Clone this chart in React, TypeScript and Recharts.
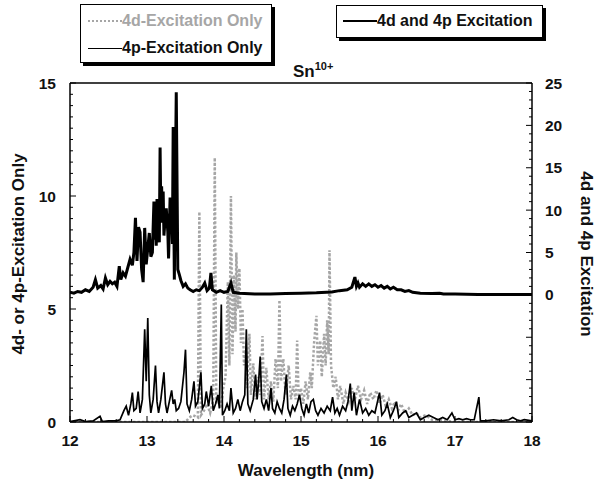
import { LineChart, Line, XAxis, YAxis } from 'recharts';

// 4d and 4p excitation (right axis)
const comboWl = [
  12.0, 12.05, 12.1, 12.15, 12.2, 12.25, 12.3, 12.33, 12.36, 12.4, 12.43, 12.46, 12.49, 12.52, 12.55, 12.58,
  12.61, 12.64, 12.66, 12.69, 12.72, 12.75, 12.78, 12.81, 12.83, 12.85, 12.87, 12.89, 12.91, 12.93, 12.95,
  12.97, 12.99, 13.01, 13.03, 13.05, 13.07, 13.09, 13.1, 13.11, 13.12, 13.13, 13.14, 13.15, 13.16, 13.17,
  13.18, 13.19, 13.2, 13.21, 13.22, 13.23, 13.25, 13.27, 13.28, 13.3, 13.32, 13.33, 13.34, 13.355, 13.37,
  13.38, 13.4, 13.42, 13.44, 13.47, 13.5, 13.53, 13.56, 13.6, 13.64, 13.68, 13.72, 13.75, 13.78, 13.81,
  13.83, 13.85, 13.9, 13.95, 14.0, 14.05, 14.09, 14.12, 14.2, 14.4, 14.6, 14.8, 15.0, 15.2, 15.4, 15.5,
  15.6, 15.66, 15.7, 15.72, 15.74, 15.76, 15.8, 15.84, 15.88, 15.92, 15.96, 16.0, 16.04, 16.08, 16.12,
  16.16, 16.2, 16.25, 16.3, 16.35, 16.4, 16.45, 16.55, 16.7, 16.8, 16.85, 17.0, 17.3, 17.6, 18.0,
];
const comboVal = [
  0.3, 0.2, 0.4, 0.3, 0.6, 0.4, 0.9, 1.8, 0.8, 1.1, 0.7, 2.0, 1.2, 1.6, 1.3, 1.5,
  1.0, 3.4, 1.8, 2.6, 2.2, 3.2, 4.2, 3.5, 5.0, 9.1, 4.0, 8.0, 7.4, 3.0, 1.5,
  7.9, 3.6, 5.5, 7.3, 4.5, 5.0, 11.0, 6.5, 9.5, 5.8, 11.3, 7.5, 8.0, 6.2, 17.4,
  9.0, 12.8, 8.5, 12.2, 7.0, 8.3, 10.2, 7.5, 4.3, 11.5, 10.5, 6.0, 19.8, 1.8, 15.0,
  23.9, 3.0, 2.4, 1.7, 1.0, 1.3, 0.8, 0.6, 0.4, 0.6, 0.5, 0.9, 1.4, 0.5, 0.8,
  2.6, 0.6, 0.3, 0.5, 0.3, 0.4, 1.4, 0.3, 0.2, 0.1, 0.1, 0.15, 0.2, 0.25, 0.35, 0.5,
  0.6, 0.9, 2.1, 1.0, 1.4, 0.9, 1.3, 1.0, 1.3, 1.0, 1.2, 0.9, 1.1, 0.8, 1.0,
  0.7, 0.9, 0.6, 0.6, 0.4, 0.5, 0.3, 0.2, 0.15, 0.2, 0.1, 0.1, 0.05, 0.05, 0.05,
];

// 4p-excitation only (left axis)
const p4Wl = [
  12.0, 12.13, 12.2, 12.3, 12.39, 12.42, 12.5, 12.6, 12.65, 12.7, 12.73, 12.76, 12.79, 12.81, 12.83, 12.86,
  12.885, 12.91, 12.94, 12.97, 12.99, 13.01, 13.03, 13.05, 13.08, 13.11, 13.13, 13.15, 13.18, 13.22, 13.24,
  13.26, 13.29, 13.32, 13.34, 13.36, 13.38, 13.41, 13.44, 13.48, 13.5, 13.52, 13.55, 13.58, 13.61, 13.63,
  13.66, 13.7, 13.72, 13.75, 13.77, 13.8, 13.835, 13.86, 13.89, 13.92, 13.94, 13.965, 13.98, 14.01, 14.04,
  14.07, 14.09, 14.12, 14.15, 14.18, 14.21, 14.24, 14.27, 14.29, 14.31, 14.34, 14.38, 14.41, 14.43, 14.45,
  14.47, 14.49, 14.52, 14.55, 14.58, 14.61, 14.63, 14.66, 14.69, 14.72, 14.75, 14.78, 14.81, 14.83, 14.86,
  14.89, 14.92, 14.95, 14.98, 15.01, 15.04, 15.07, 15.1, 15.13, 15.16, 15.19, 15.22, 15.26, 15.3, 15.34,
  15.38, 15.41, 15.44, 15.47, 15.5, 15.54, 15.58, 15.61, 15.64, 15.66, 15.69, 15.72, 15.76, 15.8, 15.84,
  15.88, 15.92, 15.96, 16.02, 16.05, 16.09, 16.12, 16.16, 16.2, 16.24, 16.27, 16.32, 16.36, 16.4, 16.45,
  16.5, 16.55, 16.6, 16.66, 16.72, 16.78, 16.84, 16.9, 16.96, 17.0, 17.05, 17.1, 17.15, 17.2, 17.25,
  17.31, 17.33, 17.4, 17.5, 17.6, 17.7, 17.75, 17.8, 17.85, 17.9, 18.0,
];
const p4Val = [
  0.02, 0.1, 0.02, 0.05, 0.25, 0.02, 0.05, 0.05, 0.1, 0.5, 0.7, 0.3, 0.8, 1.3, 0.5, 0.6,
  1.35, 0.4, 1.0, 4.1, 1.8, 4.6, 1.2, 0.4, 1.0, 2.5, 0.9, 0.4, 1.0, 2.2, 0.8,
  0.4, 0.9, 1.4, 0.8, 1.0, 0.5, 0.6, 0.9, 2.2, 3.2, 0.8, 0.5, 1.0, 1.8, 0.7,
  0.9, 2.2, 0.6, 0.8, 1.35, 0.7, 1.6, 0.5, 0.8, 1.2, 0.6, 5.2, 0.3, 0.5, 0.8,
  0.5, 1.5, 0.4, 0.6, 1.0, 0.5, 0.9, 1.2, 4.1, 0.8, 0.5, 1.0, 2.1, 1.0, 1.8,
  2.9, 0.9, 0.6, 1.0, 0.5, 1.5, 0.6, 0.4, 0.9, 0.6, 0.4, 1.0, 2.1, 0.6, 0.3,
  0.7, 0.5, 0.8, 1.2, 0.6, 0.3, 0.8, 0.4, 0.9, 1.0, 0.5, 0.3, 0.6, 0.4, 0.7,
  0.5, 1.1, 0.4, 0.6, 0.3, 0.7, 0.5, 0.9, 1.7, 0.5, 1.3, 0.3, 1.0, 0.4, 0.6,
  0.3, 0.5, 0.4, 1.3, 0.3, 0.5, 0.8, 0.2, 0.5, 0.9, 0.2, 0.4, 0.5, 0.2, 0.3,
  0.4, 0.1, 0.2, 0.3, 0.2, 0.1, 0.2, 0.1, 0.4, 0.1, 0.15, 0.1, 0.15, 0.1, 0.1,
  1.1, 0.05, 0.05, 0.1, 0.05, 0.1, 0.2, 0.1, 0.05, 0.1, 0.05,
];

// 4d-excitation only (left axis, grey dotted)
const d4Wl = [
  12.0, 13.5, 13.55, 13.6, 13.66, 13.68, 13.7, 13.74, 13.78, 13.82, 13.86, 13.88, 13.9, 13.93, 13.96, 13.99,
  14.02, 14.05, 14.07, 14.09, 14.11, 14.13, 14.15, 14.16, 14.18, 14.2, 14.22, 14.24, 14.26, 14.28, 14.3,
  14.33, 14.35, 14.38, 14.41, 14.44, 14.47, 14.5, 14.52, 14.55, 14.58, 14.61, 14.64, 14.67, 14.7, 14.72,
  14.74, 14.77, 14.8, 14.84, 14.87, 14.9, 14.93, 14.95, 14.97, 15.0, 15.03, 15.06, 15.09, 15.12, 15.14,
  15.17, 15.2, 15.22, 15.25, 15.27, 15.3, 15.32, 15.34, 15.36, 15.37, 15.39, 15.42, 15.45, 15.48, 15.51,
  15.55, 15.58, 15.62, 15.66, 15.7, 15.74, 15.78, 15.82, 15.86, 15.9, 15.94, 15.98, 16.02, 16.06, 16.1,
  16.14, 16.18, 16.22, 16.26, 16.3, 16.35, 16.4, 16.45, 16.5, 16.55, 16.62, 16.7, 16.8, 17.0, 18.0,
];
const d4Val = [
  0, 0, 0.2, 0.3, 0.2, 9.3, 0.3, 0.5, 0.8, 0.4, 1.0, 11.7, 0.8, 1.2, 0.6, 1.5,
  2.0, 6.2, 2.5, 10.0, 3.0, 6.5, 4.0, 7.5, 5.0, 6.8, 3.5, 5.0, 2.5, 3.2, 1.5,
  3.9, 1.2, 2.6, 1.0, 2.0, 1.2, 3.8, 1.0, 2.4, 1.0, 1.8, 0.9, 2.8, 1.5, 5.4,
  1.8, 2.8, 1.2, 2.5, 1.0, 1.6, 1.0, 3.6, 1.0, 1.5, 0.8, 1.8, 1.0, 2.2, 1.5,
  3.5, 4.7, 2.5, 3.6, 2.0, 3.9, 2.5, 4.5, 3.0, 7.6, 2.5, 1.5, 2.0, 1.0, 1.6,
  0.8, 1.3, 0.9, 1.5, 1.0, 1.6, 1.0, 1.4, 0.8, 1.3, 1.0, 1.4, 0.8, 1.2, 0.7,
  1.0, 0.6, 0.9, 0.5, 0.8, 0.4, 0.6, 0.3, 0.4, 0.2, 0.3, 0.1, 0.1, 0, 0,
];

const xLabels = [12, 13, 14, 15, 16, 17, 18];
const leftLabels = [0, 5, 10, 15];
const rightLabels = [0, 5, 10, 15, 20, 25];

const comboData = comboWl.map((x, i) => ({ x, y: comboVal[i] }));
const p4Data = p4Wl.map((x, i) => ({ x, y: p4Val[i] }));
const d4Data = d4Wl.map((x, i) => ({ x, y: d4Val[i] }));

const round = (v: number) => Math.round(v * 100) / 100;
const xTicks = Array.from({ length: 31 }, (_, i) => round(12 + i * 0.2));
const leftTicks = Array.from({ length: 31 }, (_, i) => i * 0.5);
const rightTicks = Array.from({ length: 41 }, (_, i) => i - 15);

const FONT = '"Liberation Sans", Arial, sans-serif';
const isMajorX = (v: number) => Math.abs(v - Math.round(v)) < 1e-6;

const BottomTick = (props: any) => {
  const { x, y, payload } = props;
  const major = isMajorX(payload.value);
  return (
    <g>
      <line x1={x} x2={x} y1={y} y2={y - (major ? 6 : 3)} stroke="#000" />
      {major && xLabels.includes(Math.round(payload.value)) && (
        <text x={x} y={y + 24} textAnchor="middle" fontFamily={FONT} fontWeight="bold" fontSize={15.5} fill="#111">
          {Math.round(payload.value)}
        </text>
      )}
    </g>
  );
};

const TopTick = (props: any) => {
  const { x, y, payload } = props;
  const major = isMajorX(payload.value);
  return <line x1={x} x2={x} y1={y} y2={y + (major ? 6 : 3)} stroke="#000" />;
};

const LeftTick = (props: any) => {
  const { x, y, payload } = props;
  const major = leftLabels.includes(payload.value);
  return (
    <g>
      <line x1={x} x2={x + (major ? 6 : 3)} y1={y} y2={y} stroke="#000" />
      {major && (
        <text x={x - 14} y={y + 5.5} textAnchor="end" fontFamily={FONT} fontWeight="bold" fontSize={15.5} fill="#111">
          {payload.value}
        </text>
      )}
    </g>
  );
};

const RightTick = (props: any) => {
  const { x, y, payload } = props;
  const major = payload.value % 5 === 0;
  return (
    <g>
      <line x1={x} x2={x - (major ? 6 : 3)} y1={y} y2={y} stroke="#000" />
      {rightLabels.includes(payload.value) && (
        <text x={x + 13} y={y + 5.5} textAnchor="start" fontFamily={FONT} fontWeight="bold" fontSize={15.5} fill="#111">
          {payload.value}
        </text>
      )}
    </g>
  );
};

const textBase = { fontFamily: FONT, fontWeight: 'bold' as const, color: '#111', position: 'absolute' as const };

export default function App() {
  return (
    <div style={{ position: 'absolute', left: 0, top: 0, width: 597, height: 480, background: '#fff' }}>
      <LineChart width={597} height={480} margin={{ top: 73, right: 5, bottom: 28, left: 10 }}>
        <XAxis
          xAxisId="b"
          dataKey="x"
          type="number"
          domain={[12, 18]}
          ticks={xTicks}
          interval={0}
          height={30}
          tickSize={0}
          tickMargin={0}
          tick={<BottomTick />}
          axisLine={{ stroke: '#000', strokeWidth: 1.5 }}
          allowDataOverflow
        />
        <XAxis
          xAxisId="t"
          orientation="top"
          dataKey="x"
          type="number"
          domain={[12, 18]}
          ticks={xTicks}
          interval={0}
          height={10}
          tickSize={0}
          tickMargin={0}
          tick={<TopTick />}
          axisLine={{ stroke: '#000', strokeWidth: 1.5 }}
        />
        <YAxis
          yAxisId="l"
          type="number"
          domain={[0, 15]}
          ticks={leftTicks}
          interval={0}
          width={60}
          tickSize={0}
          tickMargin={0}
          tick={<LeftTick />}
          axisLine={{ stroke: '#000', strokeWidth: 1.5 }}
          allowDataOverflow
        />
        <YAxis
          yAxisId="r"
          orientation="right"
          type="number"
          domain={[-15, 25]}
          ticks={rightTicks}
          interval={0}
          width={60}
          tickSize={0}
          tickMargin={0}
          tick={<RightTick />}
          axisLine={{ stroke: '#000', strokeWidth: 1.5 }}
          allowDataOverflow
        />
        <Line
          data={d4Data}
          xAxisId="b"
          yAxisId="l"
          dataKey="y"
          type="linear"
          stroke="#a6a6a6"
          strokeWidth={2.5}
          strokeDasharray="2.5 2"
          dot={false}
          isAnimationActive={false}
        />
        <Line
          data={p4Data}
          xAxisId="b"
          yAxisId="l"
          dataKey="y"
          type="linear"
          stroke="#000"
          strokeWidth={1.7}
          dot={false}
          isAnimationActive={false}
        />
        <Line
          data={comboData}
          xAxisId="b"
          yAxisId="r"
          dataKey="y"
          type="linear"
          stroke="#000"
          strokeWidth={3}
          dot={false}
          isAnimationActive={false}
        />
      </LineChart>

      {/* legend boxes */}
      <div style={{ position: 'absolute', left: 80, top: 4, width: 190, height: 57, border: '1px solid #000', boxShadow: '3px 3px 0 #000', background: '#fff' }}>
        <div style={{ position: 'absolute', left: 7, top: 15, width: 34, borderTop: '2.5px dotted #a6a6a6' }} />
        <div style={{ ...textBase, left: 41, top: 7, fontSize: 16, color: '#a6a6a6', whiteSpace: 'nowrap' }}>4d-Excitation Only</div>
        <div style={{ position: 'absolute', left: 7, top: 43, width: 34, borderTop: '1.5px solid #000' }} />
        <div style={{ ...textBase, left: 41, top: 34, fontSize: 16, whiteSpace: 'nowrap' }}>4p-Excitation Only</div>
      </div>
      <div style={{ position: 'absolute', left: 336, top: 5, width: 205, height: 31, border: '1px solid #000', boxShadow: '3px 3px 0 #000', background: '#fff' }}>
        <div style={{ position: 'absolute', left: 6, top: 14, width: 34, borderTop: '2.5px solid #000' }} />
        <div style={{ ...textBase, left: 40, top: 6, fontSize: 16, whiteSpace: 'nowrap' }}>4d and 4p Excitation</div>
      </div>

      {/* title */}
      <div style={{ ...textBase, left: 293, top: 60, fontSize: 17, whiteSpace: 'nowrap' }}>
        Sn<sup style={{ fontSize: 11 }}>10+</sup>
      </div>

      {/* axis titles */}
      <div style={{ ...textBase, left: 306 - 100, top: 460, width: 200, textAlign: 'center', fontSize: 17, lineHeight: '22px' }}>
        Wavelength (nm)
      </div>
      <div style={{ ...textBase, left: 19 - 150, top: 254 - 11, width: 300, textAlign: 'center', fontSize: 17, lineHeight: '22px', transform: 'rotate(-90deg)' }}>
        4d- or 4p-Excitation Only
      </div>
      <div style={{ ...textBase, left: 586 - 150, top: 254 - 11, width: 300, textAlign: 'center', fontSize: 17, lineHeight: '22px', transform: 'rotate(90deg)' }}>
        4d and 4p Excitation
      </div>
    </div>
  );
}
